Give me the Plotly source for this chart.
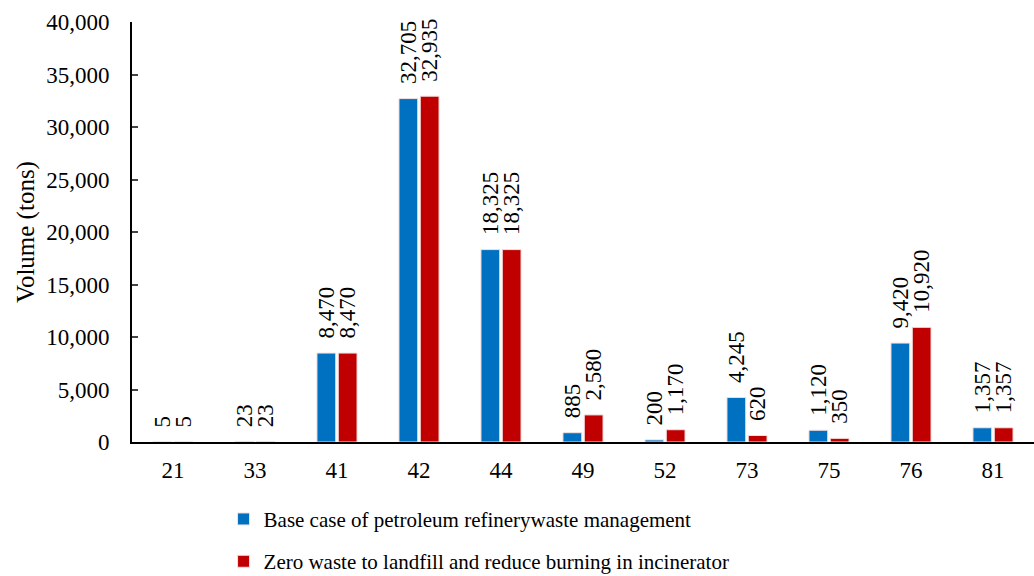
import plotly.graph_objects as go

# ===== Datos =====
categories = ["21", "33", "41", "42", "44", "49", "52", "73", "75", "76", "81"]
base_case = [5, 23, 8470, 32705, 18325, 885, 200, 4245, 1120, 9420, 1357]
zero_waste = [5, 23, 8470, 32935, 18325, 2580, 1170, 620, 350, 10920, 1357]

BLUE = "#0070C0"
RED = "#C00000"
FONT = "Liberation Serif, Times New Roman, serif"
PAD = "\u00a0\u00a0"  # separa la etiqueta rotada de la barra

fig = go.Figure()
for name, vals, color, grp in [
    ("Base case of petroleum refinerywaste management", base_case, BLUE, "a"),
    ("Zero waste to landfill and reduce burning in incinerator", zero_waste, RED, "b"),
]:
    fig.add_trace(go.Bar(
        x=categories, y=vals, name=name, legendgroup=grp,
        marker=dict(color=color, line=dict(color="#F4E0E0", width=1)),
        text=[PAD + f"{v:,}" for v in vals], textposition="outside",
        textangle=-90, textfont=dict(size=23, color="black", family=FONT),
        cliponaxis=False,
    ))

fig.update_layout(
    width=1034, height=576,
    margin=dict(l=132, r=0, t=22, b=134),
    paper_bgcolor="white", plot_bgcolor="white",
    font=dict(family=FONT, size=23, color="black"),
    barmode="group", bargap=0.48, bargroupgap=0.12,
    uniformtext=dict(minsize=23, mode="show"),
    showlegend=True,
    # yref container -> la leyenda no empuja el margen inferior
    legend=dict(orientation="v", x=0.1015, xanchor="left",
                yref="container", y=0.134, yanchor="top",
                font=dict(size=21), tracegroupgap=12, itemwidth=30),
)
fig.update_xaxes(showline=True, linecolor="black", linewidth=2, ticks="",
                 tickfont=dict(size=23), automargin=False, ticklabelstandoff=6)
fig.update_yaxes(range=[0, 40000], dtick=5000, tickformat=",", showgrid=False,
                 showline=True, linecolor="black", linewidth=2, ticks="inside",
                 ticklen=6, tickwidth=2, zeroline=False, automargin=False,
                 ticklabelstandoff=16, tickfont=dict(size=23),
                 title=dict(text="Volume (tons)", font=dict(size=25), standoff=4))

# quitar el margen por defecto del <body>
fig.write_html("out.html", config={"displayModeBar": False},
               post_script="document.body.style.margin='0';")
